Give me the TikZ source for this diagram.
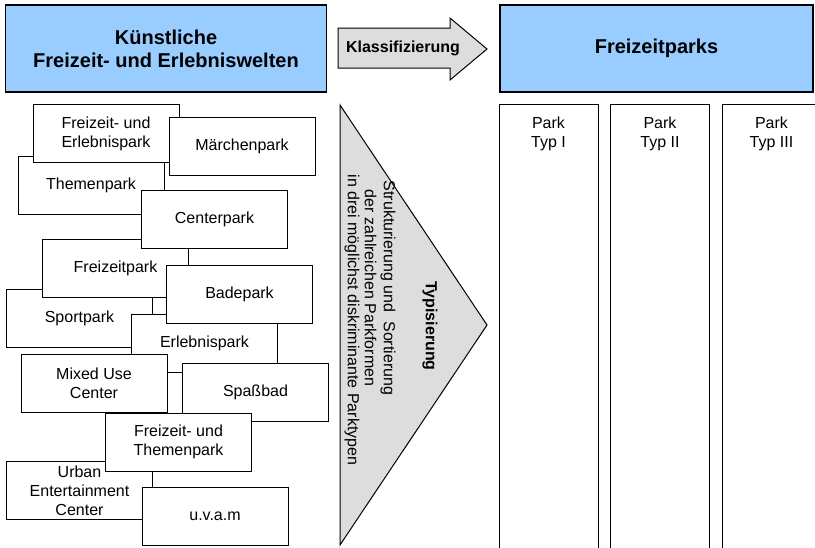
\documentclass[tikz,border=0pt]{standalone}
\usepackage{fontspec}
\setmainfont{Liberation Sans}
\definecolor{hellblau}{RGB}{153,204,255}
\definecolor{hellgrau}{RGB}{221,221,221}
\begin{document}
\begin{tikzpicture}[x=1pt,y=-1pt,
    kopf/.style={draw, fill=hellblau, line width=1.3pt, inner sep=0pt, align=center,
                 minimum width=321pt, minimum height=87pt, font=\fontsize{20}{23}\selectfont\bfseries},
    parkbox/.style={draw, fill=white, line width=1pt, inner sep=0pt, align=center,
                 minimum width=146pt, minimum height=58pt, font=\fontsize{16}{19}\selectfont},
    pfeil/.style={draw, fill=hellgrau, line width=1pt, line join=miter},
    schrift/.style={font=\fontsize{16}{19}\selectfont, align=center, inner sep=0pt}]

    \useasboundingbox (0,0) rectangle (815,547);
    \clip (0,0) rectangle (815,547);

    % Kopfzeile
    \node[kopf] (welten) at (166,48.5) {K\"unstliche\\Freizeit- und Erlebniswelten};
    \node[kopf, minimum width=313pt] (parks) at (656.5,48.5) {Freizeitparks};
    \draw[pfeil] (338,28) -- (450,28) -- (450,18) -- (487,49) -- (450,80) -- (450,68) -- (338,68) -- cycle;
    \node[schrift, font=\fontsize{16}{19}\selectfont\bfseries] (klass) at (403,48) {Klassifizierung};

    % Parkformen (links), Reihenfolge = Ueberdeckung
    \node[parkbox] (themen)   at (91,185.5)   {Themenpark};
    \node[parkbox] (fe)       at (106,133.5)  {Freizeit- und\\Erlebnispark};
    \node[parkbox] (maerchen) at (242,146)    {M\"archenpark};
    \node[parkbox] (sport)    at (79.5,318)   {Sportpark};
    \node[parkbox] (freizeit) at (115.5,268)  {Freizeitpark};
    \node[parkbox] (center)   at (214.5,219.5){Centerpark};
    \node[parkbox] (erlebnis) at (204.5,343)  {Erlebnispark};
    \node[parkbox] (bade)     at (239.5,294)  {Badepark};
    \node[parkbox] (mixed)    at (94,383)     {Mixed Use\\Center};
    \node[parkbox] (spass)    at (255.5,392)  {Spa\ss bad};
    \node[parkbox] (urban)    at (79.5,490.5) {Urban\\Entertainment\\Center};
    \node[parkbox] (ft)       at (178.5,442)  {Freizeit- und\\Themenpark};
    \node[parkbox] (uvam)     at (215,516)    {u.v.a.m};

    % Typisierung
    \draw[pfeil] (340,105) -- (487,325) -- (340,545) -- cycle;
    \node[schrift, rotate=-90, font=\fontsize{16}{19}\selectfont\bfseries] (typ) at (430,326) {Typisierung};
    \node[schrift, rotate=-90] (struktur) at (380,288) {Strukturierung und~ Sortierung\\der zahlreichen Parkformen};
    \node[schrift, rotate=-90] (drei) at (352,320) {in drei m\"oglichst diskriminante Parktypen};

    % Parktypen (rechts)
    \foreach \i/\t in {0/I,1/II,2/III} {
        \draw[line width=1pt] (499+\i*111.5,104) rectangle ++(99,460);
        \node[schrift] (park\i) at (548.5+\i*111.5,133.5) {Park\\Typ \t};
    }
\end{tikzpicture}
\end{document}
